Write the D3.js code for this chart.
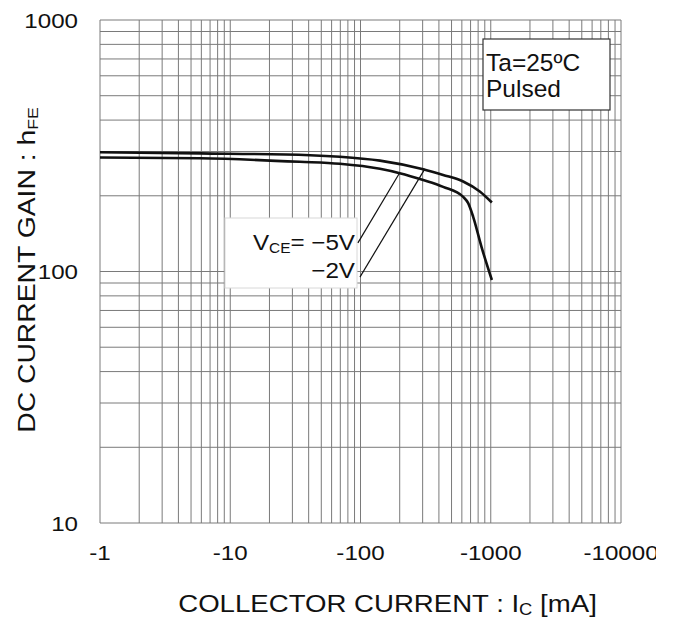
<!DOCTYPE html>
<html><head><meta charset="utf-8">
<script src="https://cdn.jsdelivr.net/npm/d3@7"></script>
<style>
html,body{margin:0;padding:0;background:#fff;}
svg{display:block;font-family:"Liberation Sans",Arial,sans-serif;}
</style></head>
<body>
<svg id="chart" width="673" height="619"></svg>
<script>
// ---- data ----
const xTickValues = [1, 10, 100, 1000, 10000];           // |Ic| in mA
const xTickLabels = ["-1", "-10", "-100", "-1000", "-10000"];
const yTickValues = [10, 100, 1000];
const yTickLabels = ["10", "100", "1000"];

// upper curve
const icUpper  = [1, 5.85, 40.9, 69.5, 141, 303, 431, 614, 824, 1020];
const hfeUpper = [298, 295, 290, 286, 276, 255, 242, 228, 208, 188];
// lower curve
const icLower  = [1, 5.85, 34.2, 69.5, 141, 200, 303, 431, 614, 671, 733, 850, 1020];
const hfeLower = [284, 282, 273, 268, 256, 246, 231, 217, 198, 187, 165, 125, 92.5];

// leader lines [start, end] from the V_CE label to the curves
const leaderIc  = [[95.5, 200], [99, 312]];
const leaderHfe = [[130, 247], [95, 256]];

const noteLines = ["Ta=25ºC", "Pulsed"];

// ---- drawing ----
(function () {
const svg = d3.select("#chart");
const pl = 100, pr = 621, pt = 20, pb = 523;
const x = d3.scaleLog().domain([1, 10000]).range([pl, pr]);
const y = d3.scaleLog().domain([10, 1000]).range([pb, pt]);
const SX = 1.15;   // horizontal stretch of the reference lettering

// grid
const xGrid = [];
for (let e = 0; e < 4; e++) for (let d = 1; d < 10; d++) xGrid.push(d * Math.pow(10, e));
xGrid.push(10000);
const yGrid = [];
for (let e = 1; e < 3; e++) for (let d = 1; d < 10; d++) yGrid.push(d * Math.pow(10, e));
yGrid.push(1000);

const grid = svg.append("g").attr("stroke", "#7a7a7a").attr("stroke-width", 1);
grid.selectAll("line.v").data(xGrid).join("line").attr("class", "v")
  .attr("x1", d => x(d)).attr("x2", d => x(d)).attr("y1", pt).attr("y2", pb);
grid.selectAll("line.h").data(yGrid).join("line").attr("class", "h")
  .attr("y1", d => y(d)).attr("y2", d => y(d)).attr("x1", pl).attr("x2", pr);

// tick labels
svg.append("defs").append("clipPath").attr("id", "clipTxt")
  .append("rect").attr("x", 0).attr("y", 0).attr("width", 656).attr("height", 619);

svg.append("g").attr("clip-path", "url(#clipTxt)")
  .selectAll("text").data(xTickValues).join("text")
  .attr("transform", d => `translate(${x(d)},560) scale(${SX},1)`)
  .attr("text-anchor", "middle")
  .attr("font-size", 21).attr("fill", "#111")
  .text((d, i) => xTickLabels[i]);

svg.append("g").selectAll("text").data(yTickValues).join("text")
  .attr("transform", d => `translate(78,${y(d)}) scale(${SX},1)`)
  .attr("dy", "0.36em").attr("text-anchor", "end")
  .attr("font-size", 21).attr("fill", "#111")
  .text((d, i) => yTickLabels[i]);

// curves
const line = d3.line().x(d => x(d[0])).y(d => y(d[1])).curve(d3.curveMonotoneX);
[[icUpper, hfeUpper], [icLower, hfeLower]].forEach(([ic, h]) => {
  svg.append("path").datum(ic.map((v, i) => [v, h[i]]))
    .attr("d", line).attr("fill", "none").attr("stroke", "#111").attr("stroke-width", 2.6);
});

// V_CE label box
svg.append("rect").attr("x", 225).attr("y", 218).attr("width", 132).attr("height", 70)
  .attr("fill", "#fff").attr("stroke", "#d8d8d8").attr("stroke-width", 1);
const vt = svg.append("text").attr("transform", "translate(355,250) scale(1.1,1)")
  .attr("text-anchor", "end").attr("font-size", 22).attr("fill", "#111");
vt.append("tspan").text("V");
vt.append("tspan").attr("font-size", 14).attr("dy", 3).text("CE");
vt.append("tspan").attr("dy", -3).text("= \u22125V");
svg.append("text").attr("transform", "translate(355,278) scale(1.1,1)")
  .attr("text-anchor", "end").attr("font-size", 22).attr("fill", "#111").text("\u22122V");

// leader lines
svg.append("g").selectAll("line").data(leaderIc).join("line")
  .attr("x1", d => x(d[0])).attr("x2", d => x(d[1]))
  .attr("y1", (d, i) => y(leaderHfe[i][0])).attr("y2", (d, i) => y(leaderHfe[i][1]))
  .attr("stroke", "#111").attr("stroke-width", 1.2);

// condition box
svg.append("rect").attr("x", 483).attr("y", 39).attr("width", 127).attr("height", 71)
  .attr("fill", "#fff").attr("stroke", "#333").attr("stroke-width", 1.2);
svg.append("g").selectAll("text").data(noteLines).join("text")
  .attr("x", 486).attr("y", (d, i) => 71 + i * 26)
  .attr("font-size", 24.5).attr("fill", "#111").text(d => d);

// axis titles
const xt = svg.append("text").attr("transform", `translate(387.5,612) scale(${SX},1)`)
  .attr("text-anchor", "middle").attr("font-size", 24).attr("fill", "#111");
xt.append("tspan").text("COLLECTOR CURRENT : I");
xt.append("tspan").attr("font-size", 16).attr("dy", 3).text("C");
xt.append("tspan").attr("dy", -3).text(" [mA]");

const yt = svg.append("text").attr("transform", "translate(35,270) rotate(-90) scale(1.18,1)")
  .attr("text-anchor", "middle").attr("font-size", 24).attr("fill", "#111");
yt.append("tspan").text("DC CURRENT GAIN : h");
yt.append("tspan").attr("font-size", 15).attr("dy", 3).text("FE");
})();
</script>
</body></html>
